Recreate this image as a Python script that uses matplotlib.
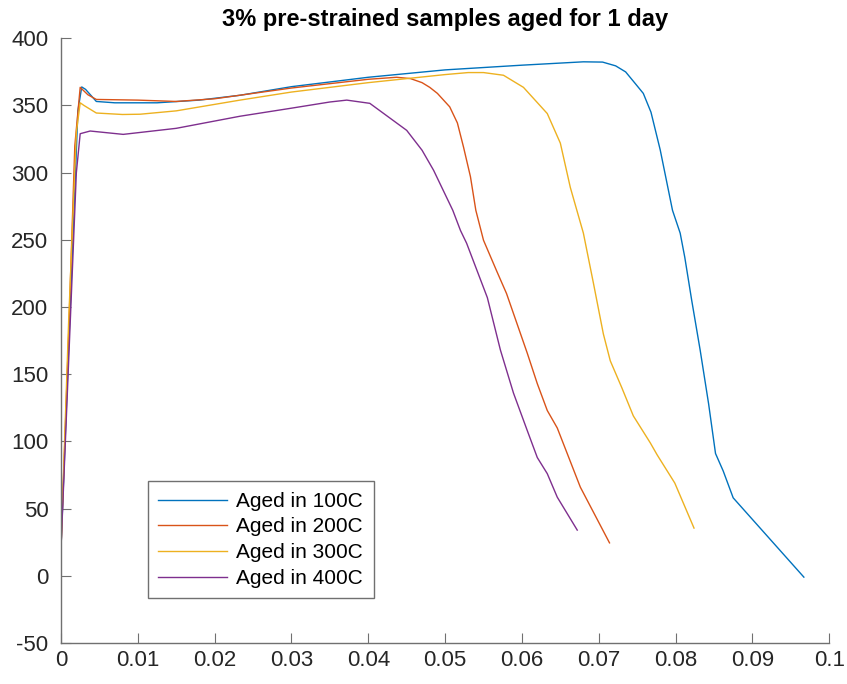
import matplotlib
matplotlib.use("Agg")
import matplotlib.pyplot as plt

# 100C
x100 = [0, 0.0005, 0.001, 0.0016, 0.0022, 0.0027, 0.0032, 0.0046, 0.007, 0.0125, 0.018, 0.0233, 0.03, 0.04, 0.05,
        0.06, 0.068, 0.0705, 0.0722, 0.0735, 0.0748, 0.0758, 0.0768, 0.078, 0.0796, 0.0806, 0.0812, 0.0821,
        0.0832, 0.0843, 0.0852, 0.0862, 0.0875, 0.0967]
y100 = [20, 95, 170, 257, 346, 363.8, 362, 353, 352, 352, 354, 357.6, 364, 371, 376.5,
        380, 382.5, 382.3, 379.5, 375, 366, 359, 345, 317, 272, 255, 237, 205,
        168, 128, 91, 78, 58, -1]
# 200C
x200 = [0, 0.001, 0.0018, 0.0025, 0.0035, 0.0046, 0.01, 0.015, 0.02, 0.03, 0.04, 0.0437, 0.0455, 0.047, 0.048,
        0.049, 0.0506, 0.0516, 0.0524, 0.0533, 0.054, 0.055, 0.0567, 0.058, 0.0607, 0.062, 0.0633, 0.0646,
        0.0676, 0.0714]
y200 = [20, 180, 320, 363.5, 358, 354.5, 354, 353, 355, 363, 369.5, 371, 370, 367, 363.5,
        359, 349, 337, 319, 297, 272, 249.7, 227, 210, 165.6, 143, 123, 110,
        66, 24.5]
# 300C
x300 = [0, 0.001, 0.002, 0.0025, 0.003, 0.0046, 0.008, 0.0103, 0.015, 0.0233, 0.03, 0.04, 0.045, 0.05, 0.053,
        0.055, 0.0576, 0.0602, 0.0633, 0.065, 0.0663, 0.068, 0.0693, 0.0706, 0.0715, 0.073, 0.0745, 0.0767,
        0.0776, 0.0799, 0.0824]
y300 = [20, 190, 330, 352, 350, 344.4, 343.3, 343.5, 346, 354, 360, 367, 370, 373, 374.5,
        374.5, 372.5, 363.5, 344, 322, 289, 255, 218, 180, 160, 140, 119, 99,
        90, 69, 35.5]
# 400C
x400 = [0, 0.001, 0.002, 0.0025, 0.0038, 0.0081, 0.015, 0.0233, 0.03, 0.035, 0.0372, 0.0402, 0.045, 0.047,
        0.0485, 0.051, 0.052, 0.0528, 0.0555, 0.0572, 0.0589, 0.0607, 0.062, 0.0633, 0.0646, 0.0672]
y400 = [20, 160, 300, 329, 331, 328.5, 333, 342, 348, 352.6, 354, 351.6, 331.5, 316.7,
        301.8, 272, 257, 247.5, 207, 168, 136, 108, 88, 76, 58.5, 34]

labels = ["Aged in 100C", "Aged in 200C", "Aged in 300C", "Aged in 400C"]
colors = ["#0072BD", "#D95319", "#EDB120", "#7E2F8E"]

plt.rcParams['font.family'] = ['Liberation Sans', 'DejaVu Sans']
plt.rcParams['axes.unicode_minus'] = False

fig = plt.figure(figsize=(8.47, 6.84), dpi=100)
ax = fig.add_axes([0.072, 0.06, 0.907, 0.884])

for xs, ys, lab, c in zip([x100, x200, x300, x400], [y100, y200, y300, y400], labels, colors):
    ax.plot(xs, ys, color=c, lw=1.0, label=lab)

ax.set_xlim(0, 0.1)
ax.set_ylim(-50, 400)
ax.set_xticks([i / 100 for i in range(11)])
ax.set_xticklabels(["0"] + ["0.%02d" % i for i in range(1, 10)] + ["0.1"])
ax.set_yticks(range(-50, 401, 50))
ax.tick_params(direction='in', labelsize=16, labelcolor='#262626', color='#707070', length=7, width=0.8)
ax.tick_params(axis='y', pad=9)
ax.tick_params(axis='x', pad=5)
for s in ['top', 'right']:
    ax.spines[s].set_visible(False)
for s in ['left', 'bottom']:
    ax.spines[s].set_color('#707070')
    ax.spines[s].set_linewidth(1.0)

ax.set_title("3% pre-strained samples aged for 1 day", fontsize=17, fontweight='bold', pad=9)

leg = ax.legend(loc='lower left', bbox_to_anchor=(0.113, 0.074), fontsize=15, fancybox=False,
                edgecolor='#707070', framealpha=1, handlelength=3.3, handletextpad=0.45,
                borderpad=0.5, labelspacing=0.32, borderaxespad=0)
leg.get_frame().set_linewidth(1.0)

fig.savefig("out.png", dpi=100)
